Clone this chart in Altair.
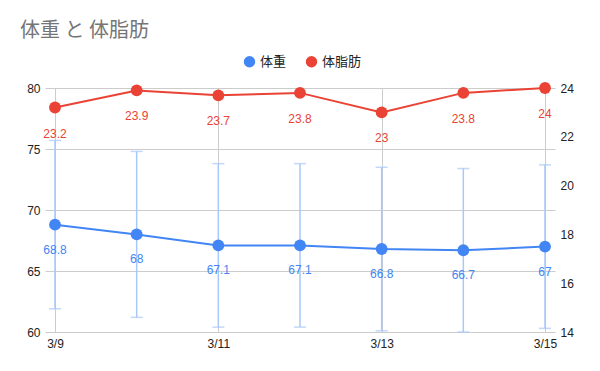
import altair as alt
import pandas as pd

dates = ["3/9", "3/10", "3/11", "3/12", "3/13", "3/14", "3/15"]
x_labels = ["3/9", "3/11", "3/13", "3/15"]
weight = [68.8, 68, 67.1, 67.1, 66.8, 66.7, 67]
weight_low = [61.9, 61.2, 60.4, 60.4, 60.1, 60.0, 60.3]
weight_high = [75.7, 74.8, 73.8, 73.8, 73.5, 73.4, 73.7]
fat = [23.2, 23.9, 23.7, 23.8, 23, 23.8, 24]
left_ticks = [60, 65, 70, 75, 80]
right_ticks = [14, 16, 18, 20, 22, 24]
series_names = ["体重", "体脂肪"]
colors = ["#4285F4", "#EA4335"]
EB = "#A8C7FA"
GRID = "#cccccc"
FONT = "Liberation Sans"
CJK = "Noto Sans CJK JP"

df = pd.DataFrame({"date": dates, "weight": weight, "low": weight_low,
                   "high": weight_high, "fat": fat})

x_axis = alt.Axis(values=x_labels, labelAngle=0, grid=True, gridColor=GRID,
                  domain=False, ticks=False, labelPadding=6, labelFontSize=12,
                  labelColor="#222222", labelFont=FONT, title=None)
xenc = alt.X("date:O", sort=dates, title=None,
             scale=alt.Scale(type="point", padding=0.1224), axis=x_axis)

yL = alt.Scale(domain=[60, 80], nice=False, zero=False)
yR = alt.Scale(domain=[14, 24], nice=False, zero=False)
left_axis = alt.Axis(values=left_ticks, grid=True, gridColor=GRID, domain=False,
                     ticks=False, labelPadding=5, labelFontSize=12,
                     labelColor="#222222", labelFont=FONT, title=None)
right_axis = alt.Axis(orient="right", values=right_ticks, grid=False, domain=False,
                      ticks=False, labelPadding=5, labelFontSize=12,
                      labelColor="#222222", labelFont=FONT, title=None)

cscale = alt.Scale(domain=series_names, range=colors)
legend = alt.Legend(orient="none", legendX=198, legendY=-33, direction="horizontal",
                    title=None, symbolType="circle", symbolSize=130,
                    labelFontSize=13, labelFont=CJK, labelColor="#222222",
                    columnPadding=18, symbolStrokeWidth=0)

base = alt.Chart(df)

err = base.mark_rule(color=EB, strokeWidth=1.5).encode(
    x=xenc, y=alt.Y("low:Q", scale=yL, axis=left_axis, title=None), y2="high:Q")
cap_lo = base.mark_tick(color=EB, size=12, thickness=1.5).encode(
    x=xenc, y=alt.Y("low:Q", scale=yL, axis=left_axis, title=None))
cap_hi = base.mark_tick(color=EB, size=12, thickness=1.5).encode(
    x=xenc, y=alt.Y("high:Q", scale=yL, axis=left_axis, title=None))
wline = base.mark_line(color=colors[0], strokeWidth=2).encode(
    x=xenc, y=alt.Y("weight:Q", scale=yL, axis=left_axis, title=None))
wpts = base.transform_calculate(series="'体重'").mark_circle(size=140, opacity=1).encode(
    x=xenc, y=alt.Y("weight:Q", scale=yL, axis=left_axis, title=None),
    color=alt.Color("series:N", scale=cscale, legend=legend))
wlab = base.mark_text(color=colors[0], dy=25, fontSize=12, font=FONT).encode(
    x=xenc, y=alt.Y("weight:Q", scale=yL, axis=left_axis, title=None),
    text=alt.Text("weight:Q", format="~g"))

left = alt.layer(err, cap_lo, cap_hi, wline, wpts, wlab)

fline = base.mark_line(color=colors[1], strokeWidth=2).encode(
    x=xenc, y=alt.Y("fat:Q", scale=yR, axis=right_axis, title=None))
fpts = base.transform_calculate(series="'体脂肪'").mark_circle(size=140, opacity=1).encode(
    x=xenc, y=alt.Y("fat:Q", scale=yR, axis=right_axis, title=None),
    color=alt.Color("series:N", scale=cscale, legend=legend))
flab = base.mark_text(color=colors[1], dy=26, fontSize=12, font=FONT).encode(
    x=xenc, y=alt.Y("fat:Q", scale=yR, axis=right_axis, title=None),
    text=alt.Text("fat:Q", format="~g"))

right = alt.layer(fline, fpts, flab)

chart = alt.layer(left, right).resolve_scale(y="independent").properties(
    width=510, height=244,
    padding={"left": 37, "top": 80, "right": 37, "bottom": 27},
    autosize=alt.AutoSizeParams(type="none"),
    title=alt.TitleParams(text="体重 と 体脂肪", anchor="start", frame="group",
                          dx=-25, offset=14, fontSize=20, fontWeight="normal",
                          color="#757575", font=CJK),
).configure_view(stroke=None)

chart.save("out.html", embed_options={"renderer": "svg", "actions": False})
